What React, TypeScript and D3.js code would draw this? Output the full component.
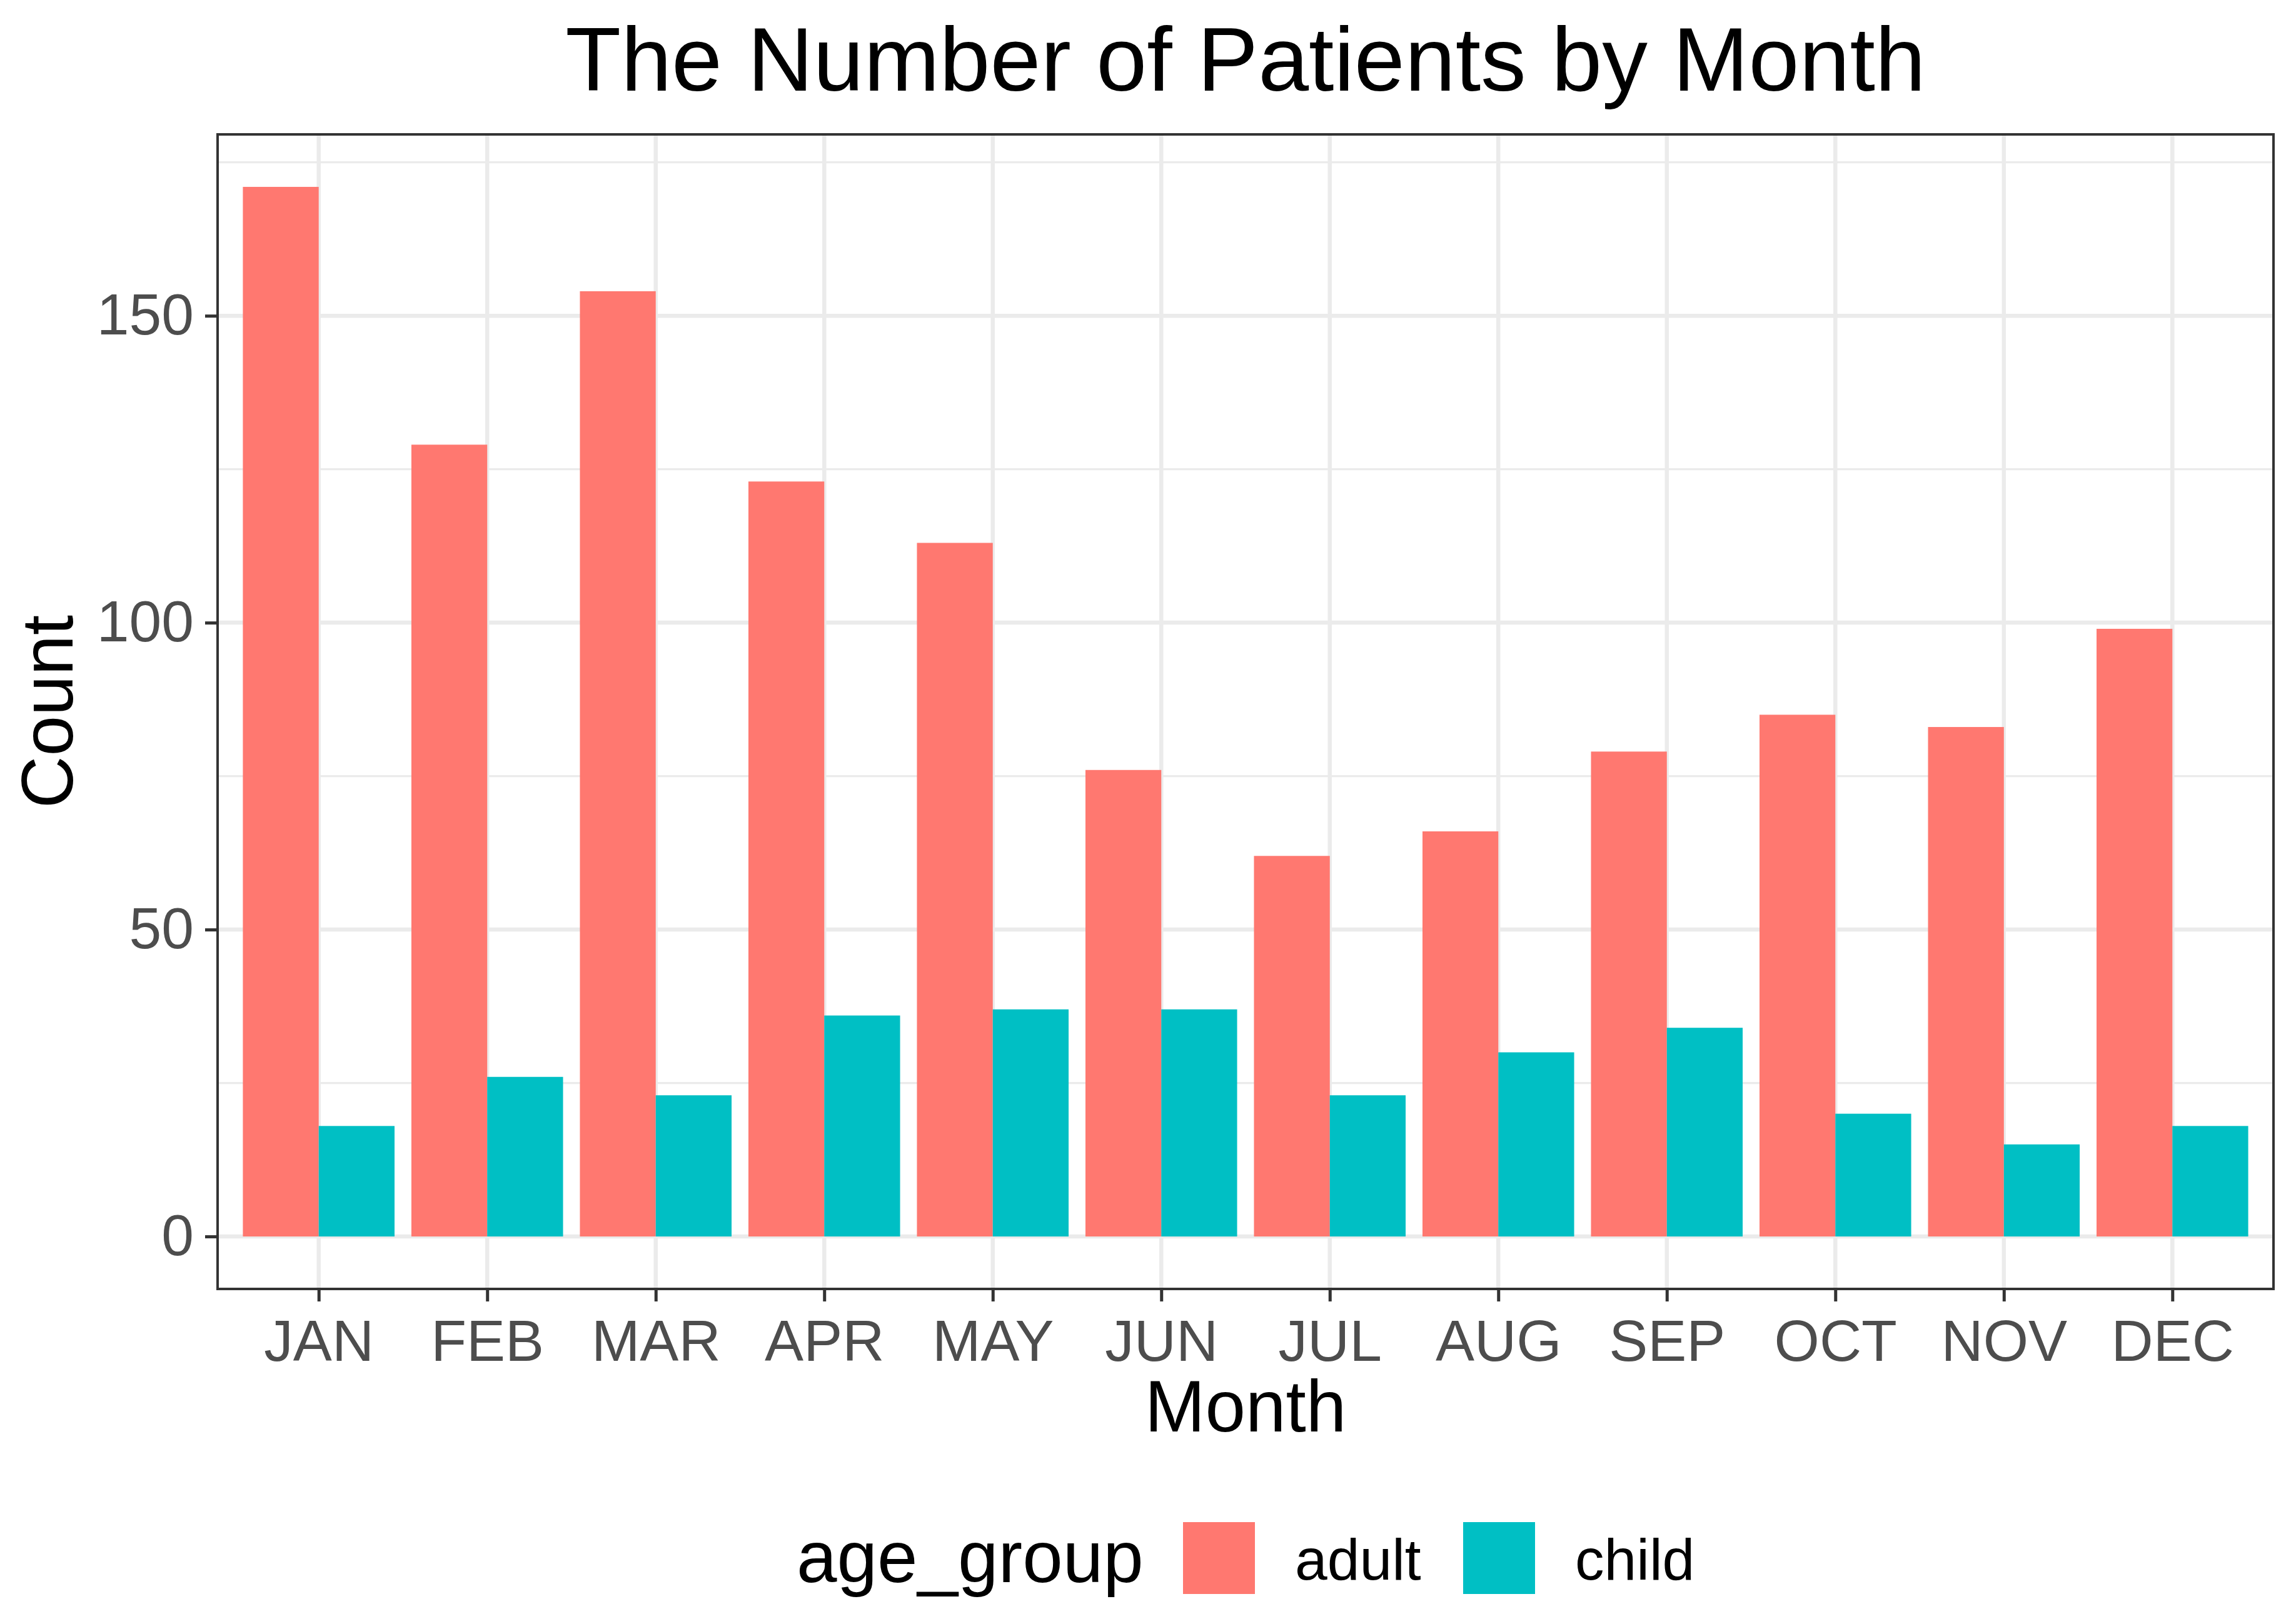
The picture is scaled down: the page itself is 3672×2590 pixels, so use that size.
import React, { useRef, useEffect } from "react";
import * as d3 from "d3";

// chart data
const months = ["JAN", "FEB", "MAR", "APR", "MAY", "JUN", "JUL", "AUG", "SEP", "OCT", "NOV", "DEC"];
const ageGroups = ["adult", "child"];
const adultCounts = [171, 129, 154, 123, 113, 76, 62, 66, 79, 85, 83, 99];
const childCounts = [18, 26, 23, 36, 37, 37, 23, 30, 34, 20, 15, 18];
const yTicks = [0, 50, 100, 150];
const yMinorTicks = [25, 75, 125, 175];
const groupColors = ["#FF7870", "#00BFC4"];

const App: React.FC = () => {
    const ref = useRef<SVGSVGElement | null>(null);
    const width = 3672;
    const height = 2590;
    const margin = { top: 215, right: 36, bottom: 528, left: 348 };

    useEffect(() => {
        if (!ref.current) return;
        const pw = width - margin.left - margin.right;
        const ph = height - margin.top - margin.bottom;
        const font = "'Liberation Sans', Arial, sans-serif";

        const svgRoot = d3.select(ref.current);
        svgRoot.selectAll("*").remove();

        // flatten into rows for the dodged bars
        const rows = months.flatMap((m, i) => [
            { month: m, group: "adult", value: adultCounts[i] },
            { month: m, group: "child", value: childCounts[i] },
        ]);

        // ggplot-like scales: discrete expand 0.6, continuous expand 5%
        const x = d3.scalePoint<string>().domain(months).range([0, pw]).padding(0.6);
        const step = x.step();
        const xInner = d3.scaleBand<string>().domain(ageGroups).range([-0.45 * step, 0.45 * step]).padding(0);
        const maxVal = d3.max(rows, (d) => d.value) as number;
        const y = d3.scaleLinear().domain([-0.05 * maxVal, maxVal * 1.05]).range([ph, 0]);
        const color = d3.scaleOrdinal<string, string>().domain(ageGroups).range(groupColors);

        svgRoot.append("rect").attr("width", width).attr("height", height).attr("fill", "white");

        const g = svgRoot.append("g").attr("transform", `translate(${margin.left},${margin.top})`);

        // grid lines
        g.selectAll(".minor")
            .data(yMinorTicks)
            .enter()
            .append("line")
            .attr("x1", 0)
            .attr("x2", pw)
            .attr("y1", (d) => y(d))
            .attr("y2", (d) => y(d))
            .attr("stroke", "#EBEBEB")
            .attr("stroke-width", 3.3);
        g.selectAll(".major")
            .data(yTicks)
            .enter()
            .append("line")
            .attr("x1", 0)
            .attr("x2", pw)
            .attr("y1", (d) => y(d))
            .attr("y2", (d) => y(d))
            .attr("stroke", "#EBEBEB")
            .attr("stroke-width", 6.5);
        g.selectAll(".vmajor")
            .data(months)
            .enter()
            .append("line")
            .attr("x1", (d) => x(d)!)
            .attr("x2", (d) => x(d)!)
            .attr("y1", 0)
            .attr("y2", ph)
            .attr("stroke", "#EBEBEB")
            .attr("stroke-width", 6.5);

        // bars
        g.selectAll(".bar")
            .data(rows)
            .enter()
            .append("rect")
            .attr("x", (d) => x(d.month)! + xInner(d.group)!)
            .attr("width", xInner.bandwidth())
            .attr("y", (d) => y(d.value))
            .attr("height", (d) => y(0) - y(d.value))
            .attr("fill", (d) => color(d.group));

        // panel border
        g.append("rect")
            .attr("width", pw)
            .attr("height", ph)
            .attr("fill", "none")
            .attr("stroke", "#333333")
            .attr("stroke-width", 4);

        // y axis
        const yAxis = d3.axisLeft(y).tickValues(yTicks).tickSize(20).tickPadding(18);
        const ya = g.append("g").call(yAxis);
        ya.select(".domain").remove();
        ya.selectAll("line").attr("stroke", "#333333").attr("stroke-width", 5);
        ya.selectAll("text")
            .attr("fill", "#4D4D4D")
            .style("font-family", font)
            .style("font-size", "93px");

        // x axis
        const xAxis = d3.axisBottom(x).tickSize(20).tickPadding(29);
        const xa = g.append("g").attr("transform", `translate(0,${ph})`).call(xAxis);
        xa.select(".domain").remove();
        xa.selectAll("line").attr("stroke", "#333333").attr("stroke-width", 5);
        xa.selectAll("text")
            .attr("fill", "#4D4D4D")
            .attr("dy", "0.71em")
            .style("font-family", font)
            .style("font-size", "93px");

        // title
        svgRoot.append("text")
            .attr("x", margin.left + pw / 2)
            .attr("y", 145)
            .attr("text-anchor", "middle")
            .style("font-family", font)
            .style("font-size", "145.5px")
            .text("The Number of Patients by Month");

        // axis titles
        svgRoot.append("text")
            .attr("x", margin.left + pw / 2)
            .attr("y", 2290)
            .attr("text-anchor", "middle")
            .style("font-family", font)
            .style("font-size", "116px")
            .text("Month");
        svgRoot.append("text")
            .attr("transform", `translate(116,${margin.top + ph / 2}) rotate(-90)`)
            .attr("text-anchor", "middle")
            .style("font-family", font)
            .style("font-size", "116px")
            .text("Count");

        // legend at the bottom
        const legend = svgRoot.append("g").attr("transform", "translate(1274,2435)");
        legend.append("text")
            .attr("x", 0)
            .attr("y", 96)
            .style("font-family", font)
            .style("font-size", "116px")
            .text("age_group");
        const keyX = [618, 1066];
        ageGroups.forEach((grp, i) => {
            legend.append("rect")
                .attr("x", keyX[i])
                .attr("y", 0)
                .attr("width", 115)
                .attr("height", 115)
                .attr("fill", color(grp));
            legend.append("text")
                .attr("x", keyX[i] + 179)
                .attr("y", 92)
                .style("font-family", font)
                .style("font-size", "93px")
                .text(grp);
        });
    }, []);

    return (
        <svg
            ref={ref}
            width={width}
            height={height}
            style={{ position: "absolute", left: 0, top: 0, display: "block" }}
        />
    );
};

export default App;
